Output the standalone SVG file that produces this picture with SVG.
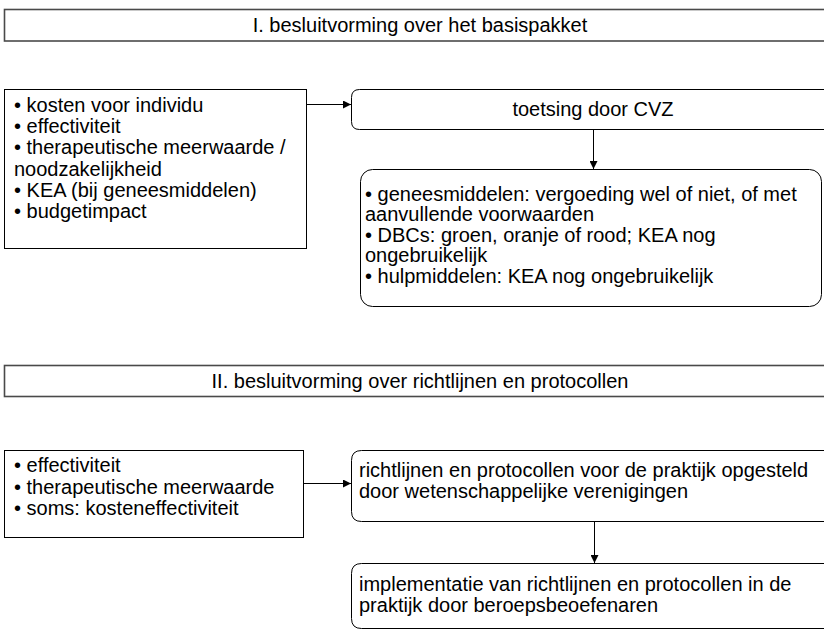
<svg xmlns="http://www.w3.org/2000/svg" width="824" height="632" viewBox="0 0 824 632">
  <defs>
    <marker id="arrow" viewBox="0 0 10 10" refX="10" refY="5" markerWidth="8" markerHeight="8" markerUnits="userSpaceOnUse" orient="auto">
      <path d="M0,0 L10,5 L0,10 Z" fill="#000"/>
    </marker>
    <style>
      text { font-family: "Liberation Sans", Arial, sans-serif; font-size: 20px; fill: #000; }
      .title { fill: #fff; stroke: #4a4a4a; stroke-width: 1.6; }
      .box { fill: #fff; stroke: #000; stroke-width: 1; }
      .mid { text-anchor: middle; }
      .conn { stroke: #000; stroke-width: 1; fill: none; marker-end: url(#arrow); }
    </style>
  </defs>
  <rect width="824" height="632" fill="#fff"/>

  <!-- Section I -->
  <g id="title-1">
    <rect class="title" x="4.5" y="9.5" width="840" height="31.5"/>
    <text class="mid" x="420" y="32">I. besluitvorming over het basispakket</text>
  </g>

  <g id="criteria-1">
    <rect class="box" x="4.5" y="89.5" width="302" height="159"/>
    <text x="14" y="112">• kosten voor individu</text>
    <text x="14" y="133.2">• effectiviteit</text>
    <text x="14" y="154.4">• therapeutische meerwaarde /</text>
    <text x="14" y="175.6">noodzakelijkheid</text>
    <text x="14" y="196.8">• KEA (bij geneesmiddelen)</text>
    <text x="14" y="218">• budgetimpact</text>
  </g>

  <g id="toetsing-cvz">
    <path class="box" d="M845,89.5 H359.5 Q351.5,89.5 351.5,97.5 V121.5 Q351.5,129.5 359.5,129.5 H845"/>
    <text class="mid" x="593" y="116">toetsing door CVZ</text>
  </g>

  <g id="uitkomst-cvz">
    <rect class="box" x="360.5" y="169.5" width="461" height="137" rx="12" ry="12"/>
    <text x="365" y="200.5">• geneesmiddelen: vergoeding wel of niet, of met</text>
    <text x="365" y="221">aanvullende voorwaarden</text>
    <text x="365" y="241.5">• DBCs: groen, oranje of rood; KEA nog</text>
    <text x="365" y="262">ongebruikelijk</text>
    <text x="365" y="282.5">• hulpmiddelen: KEA nog ongebruikelijk</text>
  </g>

  <!-- Section II -->
  <g id="title-2">
    <rect class="title" x="4.5" y="365.5" width="840" height="31"/>
    <text class="mid" x="420" y="388">II. besluitvorming over richtlijnen en protocollen</text>
  </g>

  <g id="criteria-2">
    <rect class="box" x="4.5" y="450.5" width="299" height="87"/>
    <text x="14" y="472">• effectiviteit</text>
    <text x="14" y="493.5">• therapeutische meerwaarde</text>
    <text x="14" y="515">• soms: kosteneffectiviteit</text>
  </g>

  <g id="richtlijnen">
    <path class="box" d="M845,450.5 H361.5 Q351.5,450.5 351.5,460.5 V511.5 Q351.5,521.5 361.5,521.5 H845"/>
    <text x="359" y="476.5">richtlijnen en protocollen voor de praktijk opgesteld</text>
    <text x="359" y="498">door wetenschappelijke verenigingen</text>
  </g>

  <g id="implementatie">
    <path class="box" d="M845,563.5 H361.5 Q351.5,563.5 351.5,573.5 V618.5 Q351.5,628.5 361.5,628.5 H845"/>
    <text x="359" y="590.5">implementatie van richtlijnen en protocollen in de</text>
    <text x="359" y="612">praktijk door beroepsbeoefenaren</text>
  </g>

  <!-- Connectors -->
  <g id="connectors">
    <line class="conn" x1="307" y1="104.5" x2="351" y2="104.5"/>
    <line class="conn" x1="593.5" y1="129.5" x2="593.5" y2="169"/>
    <line class="conn" x1="304" y1="483.5" x2="351" y2="483.5"/>
    <line class="conn" x1="594.5" y1="521.5" x2="594.5" y2="563"/>
  </g>
</svg>
